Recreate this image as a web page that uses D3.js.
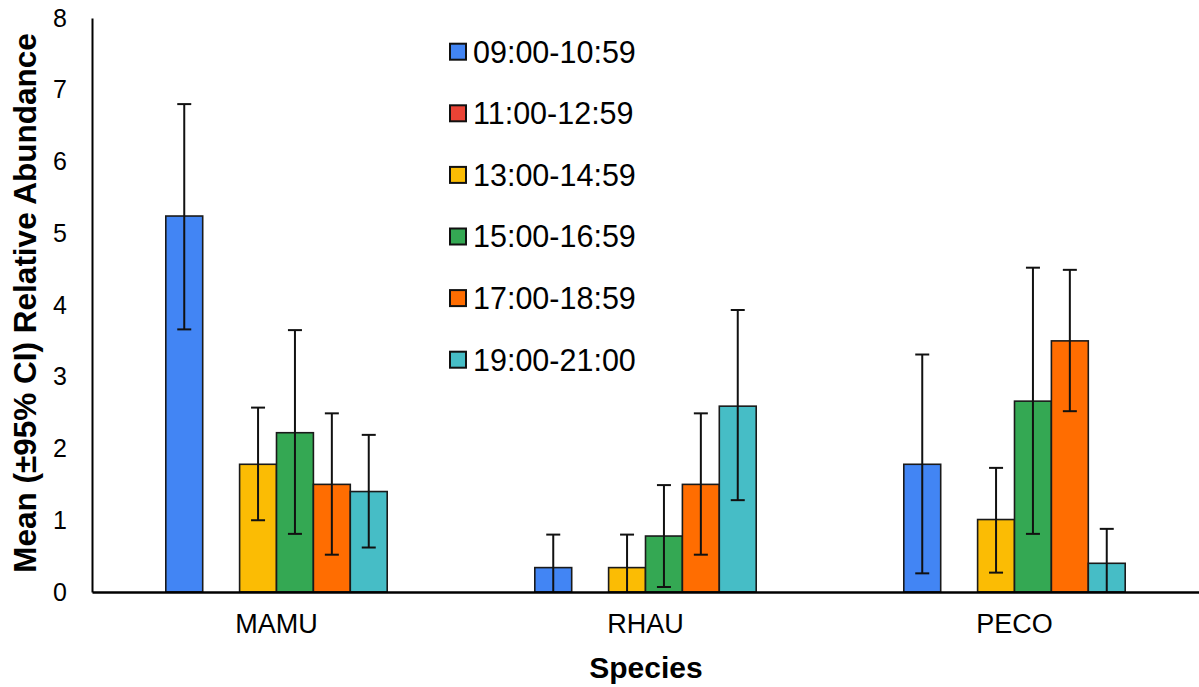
<!DOCTYPE html>
<html><head><meta charset="utf-8">
<script src="https://cdn.jsdelivr.net/npm/d3@7"></script>
<style>body{margin:0;background:#fff;} text{font-family:"Liberation Sans",Arial,sans-serif;fill:#000;}</style>
</head><body>
<svg id="chart" width="1199" height="687"></svg>
<script>
const categories = ["MAMU", "RHAU", "PECO"];
const seriesNames = ["09:00-10:59", "11:00-12:59", "13:00-14:59", "15:00-16:59", "17:00-18:59", "19:00-21:00"];
const seriesColors = ["#4285F4", "#EA4335", "#FBBC04", "#34A853", "#FF6D01", "#46BDC6"];
// values per series, in category order
const means = [
  [5.24, 0.34, 1.78],
  [0, 0, 0],
  [1.78, 0.34, 1.01],
  [2.22, 0.78, 2.66],
  [1.50, 1.50, 3.50],
  [1.40, 2.59, 0.40]
];
const ciUpper = [
  [6.80, 0.80, 3.31],
  [null, null, null],
  [2.57, 0.80, 1.73],
  [3.65, 1.49, 4.52],
  [2.49, 2.49, 4.49],
  [2.19, 3.93, 0.88]
];
const ciLower = [
  [3.66, -0.12, 0.26],
  [null, null, null],
  [1.00, -0.12, 0.27],
  [0.81, 0.07, 0.81],
  [0.52, 0.52, 2.52],
  [0.62, 1.28, -0.08]
];
const yTicks = [0, 1, 2, 3, 4, 5, 6, 7, 8];

const svg = d3.select("#chart");
const mLeft = 92, mRight = 1199, mTop = 18, mBottom = 592;

const x0 = d3.scaleBand().domain(categories).range([mLeft, mRight]).padding(0);
const x1 = d3.scaleBand().domain(d3.range(seriesNames.length)).range([0, x0.bandwidth()]).paddingInner(0).paddingOuter(2);
const y = d3.scaleLinear().domain([0, 8]).range([mBottom, mTop]);

svg.append("defs").append("clipPath").attr("id", "plotclip")
  .append("rect").attr("x", mLeft).attr("y", mTop - 5).attr("width", mRight - mLeft).attr("height", mBottom - mTop + 5);

const data = [];
seriesNames.forEach((s, si) => categories.forEach((c, ci) => {
  data.push({s: si, c, v: means[si][ci], hi: ciUpper[si][ci], lo: ciLower[si][ci]});
}));

// bars
svg.append("g").selectAll("rect").data(data.filter(d => d.v > 0)).join("rect")
  .attr("x", d => x0(d.c) + x1(d.s))
  .attr("y", d => y(d.v))
  .attr("width", x1.bandwidth())
  .attr("height", d => y(0) - y(d.v))
  .attr("fill", d => seriesColors[d.s])
  .attr("stroke", "#1a1a1a").attr("stroke-width", 1.6);

// error bars
const eb = svg.append("g").attr("clip-path", "url(#plotclip)")
  .selectAll("g").data(data.filter(d => d.hi != null)).join("g")
  .attr("stroke", "#111").attr("stroke-width", 2);
const cx = d => x0(d.c) + x1(d.s) + x1.bandwidth() / 2;
eb.append("line").attr("x1", cx).attr("x2", cx).attr("y1", d => y(d.hi)).attr("y2", d => y(d.lo));
eb.append("line").attr("x1", d => cx(d) - 7).attr("x2", d => cx(d) + 7).attr("y1", d => y(d.hi)).attr("y2", d => y(d.hi));
eb.append("line").attr("x1", d => cx(d) - 7).attr("x2", d => cx(d) + 7).attr("y1", d => y(d.lo)).attr("y2", d => y(d.lo));

// axes
const yAxis = svg.append("g").attr("transform", `translate(${mLeft},0)`)
  .call(d3.axisLeft(y).tickValues(yTicks).tickSize(0).tickPadding(25).tickFormat(d3.format("d")));
yAxis.select(".domain").attr("stroke", "#000").attr("stroke-width", 2);
yAxis.selectAll("text").attr("font-size", 25).attr("font-family", "Liberation Sans, Arial, sans-serif");

const xAxis = svg.append("g").attr("transform", `translate(0,${mBottom})`)
  .call(d3.axisBottom(x0).tickSize(0).tickPadding(22));
xAxis.select(".domain").attr("stroke", "#000").attr("stroke-width", 2.5);
xAxis.selectAll("text").attr("font-size", 27).attr("font-family", "Liberation Sans, Arial, sans-serif");

// axis titles
svg.append("text").attr("x", 646).attr("y", 678).attr("text-anchor", "middle")
  .attr("font-size", 30).attr("font-weight", "bold").text("Species");
svg.append("text").attr("transform", "translate(36,303) rotate(-90)").attr("text-anchor", "middle")
  .attr("font-size", 31.5).attr("font-weight", "bold").text("Mean (±95% CI) Relative Abundance");

// legend
const lg = svg.append("g").selectAll("g").data(seriesNames).join("g")
  .attr("transform", (d, i) => `translate(450,${51.7 + i * 61.6})`);
lg.append("rect").attr("x", 0).attr("y", -8).attr("width", 16).attr("height", 16)
  .attr("fill", (d, i) => seriesColors[i]).attr("stroke", "#111").attr("stroke-width", 2);
lg.append("text").attr("x", 23).attr("y", 0).attr("dy", "0.36em")
  .attr("font-size", 30.5).text(d => d);
</script>
</body></html>
